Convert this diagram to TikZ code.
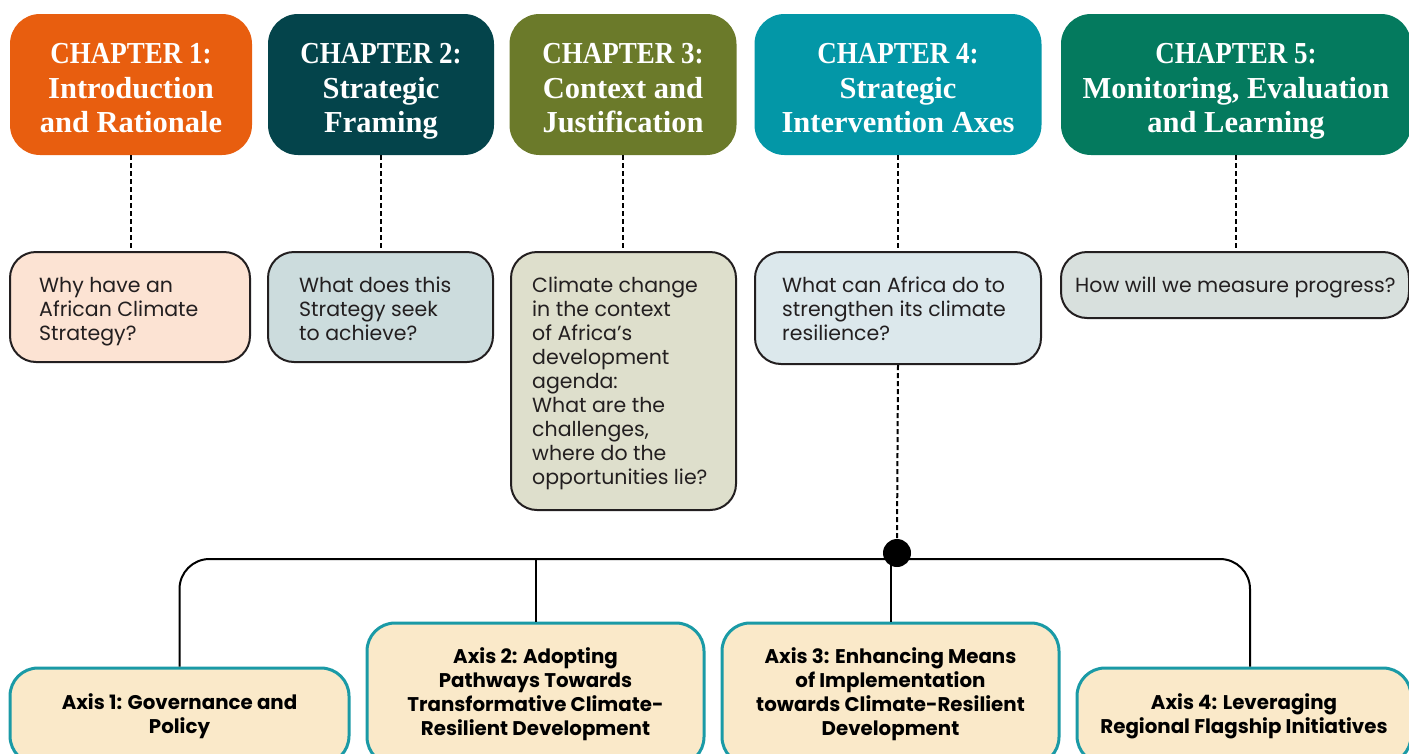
\documentclass[tikz,border=0pt]{standalone}
\usepackage{fontspec}
\setmainfont{Liberation Serif}
\newfontfamily\capfont[FakeStretch=0.885]{Liberation Serif}
\newfontfamily\qfont{Poppins}
\newfontfamily\axfont{Poppins}
\definecolor{chA}{HTML}{E85E0F}
\definecolor{chB}{HTML}{04444B}
\definecolor{chC}{HTML}{6B7A2A}
\definecolor{chD}{HTML}{0397A7}
\definecolor{chE}{HTML}{047A5E}
\definecolor{qA}{HTML}{FCE3D3}
\definecolor{qB}{HTML}{CCDCDD}
\definecolor{qC}{HTML}{DEDFCC}
\definecolor{qD}{HTML}{DCE8EC}
\definecolor{qE}{HTML}{D8E0DD}
\definecolor{axfill}{HTML}{FAE9C9}
\definecolor{axline}{HTML}{1A9AA6}
\definecolor{ink}{HTML}{231F20}
\newcommand{\chtop}{\rule{0pt}{37.5pt}}
\newcommand{\chbot}{\rule[-10.5pt]{0pt}{10.5pt}}
\tikzset{
  chbox/.style={rounded corners=30pt, minimum height=141pt, text=white, align=center,
    font=\fontsize{30.5}{34.5}\selectfont\bfseries, inner sep=0pt},
  qbox/.style={draw=ink, line width=2pt, rounded corners=26pt, inner sep=0pt},
  qtext/.style={anchor=west, align=left, text=ink, inner sep=0pt,
    font=\qfont\fontsize{20.5}{24}\selectfont},
  axbox/.style={draw=axline, fill=axfill, line width=3pt, rounded corners=28pt,
    align=center, inner sep=0pt, font=\axfont\bfseries\fontsize{19.8}{24}\selectfont},
  dashlink/.style={draw=black, line width=2pt, dash pattern=on 5pt off 3pt},
  treelink/.style={draw=black, line width=2pt}
}
\begin{document}
\begin{tikzpicture}[x=1pt,y=-1pt]
\useasboundingbox (0,0) rectangle (1409,753);
\clip (0,0) rectangle (1409,753);
% chapter headers
\node[chbox, fill=chA, minimum width=242pt] (ch1) at (131,84.5) {\chtop{\capfont CHAPTER 1:}\\Introduction\\and Rationale\chbot};
\node[chbox, fill=chB, minimum width=226pt] (ch2) at (381,84.5) {\chtop{\capfont CHAPTER 2:}\\Strategic\\Framing\chbot};
\node[chbox, fill=chC, minimum width=227pt] (ch3) at (623,84.5) {\chtop{\capfont CHAPTER 3:}\\Context and\\Justification\chbot};
\node[chbox, fill=chD, minimum width=287pt] (ch4) at (898,84.5) {\chtop{\capfont CHAPTER 4:}\\Strategic\\Intervention Axes\chbot};
\node[chbox, fill=chE, minimum width=350pt] (ch5) at (1236,84.5) {\chtop{\capfont CHAPTER 5:}\\Monitoring, Evaluation\\and Learning\chbot};
% question boxes
\node[qbox, fill=qA, minimum width=240pt, minimum height=110pt] (q1) at (130,307) {};
\node[qbox, fill=qB, minimum width=225pt, minimum height=110pt] (q2) at (380.5,307) {};
\node[qbox, fill=qC, minimum width=225pt, minimum height=258pt] (q3) at (623.5,381) {};
\node[qbox, fill=qD, minimum width=286pt, minimum height=112pt] (q4) at (898,308) {};
\node[qbox, fill=qE, minimum width=348pt, minimum height=66pt] (q5) at (1235,285) {};
\node[qtext] (q1t) at ([xshift=30pt,yshift=-5pt]q1.west) {Why have an\\African Climate\\Strategy?};
\node[qtext] (q2t) at ([xshift=32pt,yshift=-2pt]q2.west) {What does this\\Strategy seek\\to achieve?};
\node[qtext] (q3t) at ([xshift=22pt,yshift=-2pt]q3.west) {Climate change\\in the context\\of Africa’s\\development\\agenda:\\What are the\\challenges,\\where do the\\opportunities lie?};
\node[qtext] (q4t) at ([xshift=28pt,yshift=-1pt]q4.west) {What can Africa do to\\strengthen its climate\\resilience?};
\node[qtext] (q5t) at ([xshift=15pt,yshift=-2pt]q5.west) {How will we measure progress?};
% dashed links
\foreach \i in {1,...,5} {\draw[dashlink] (ch\i.south) -- (ch\i.south |- q\i.north);}
% hub
\node[circle, fill=black, minimum size=28pt, inner sep=0pt] (dot) at (897,553) {};
\draw[dashlink] (q4.south) -- (dot.north);
% axis boxes
\node[axbox, minimum width=339pt, minimum height=96pt] (ax1) at (179.5,716) {Axis 1: Governance and\\Policy};
\node[axbox, minimum width=337pt, minimum height=142pt] (ax2) at (535.5,694) {Axis 2: Adopting\\Pathways Towards\\Transformative Climate-\\Resilient Development};
\node[axbox, minimum width=337pt, minimum height=142pt] (ax3) at (890.5,694) {Axis 3: Enhancing Means\\of Implementation\\towards Climate-Resilient\\Development};
\node[axbox, minimum width=334pt, minimum height=96pt] (ax4) at (1244,716) {Axis 4: Leveraging\\Regional Flagship Initiatives};
\coordinate (hub) at (890,559);
\coordinate (ax4top) at ([xshift=6pt]ax4.north);
\draw[treelink, rounded corners=30pt] (ax1.north) -- (ax1.north |- hub) -- (ax4top |- hub) -- (ax4top);
\draw[treelink] (ax2.north) -- (ax2.north |- hub);
\draw[treelink] (ax3.north) -- (ax3.north |- hub);
\end{tikzpicture}
\end{document}
